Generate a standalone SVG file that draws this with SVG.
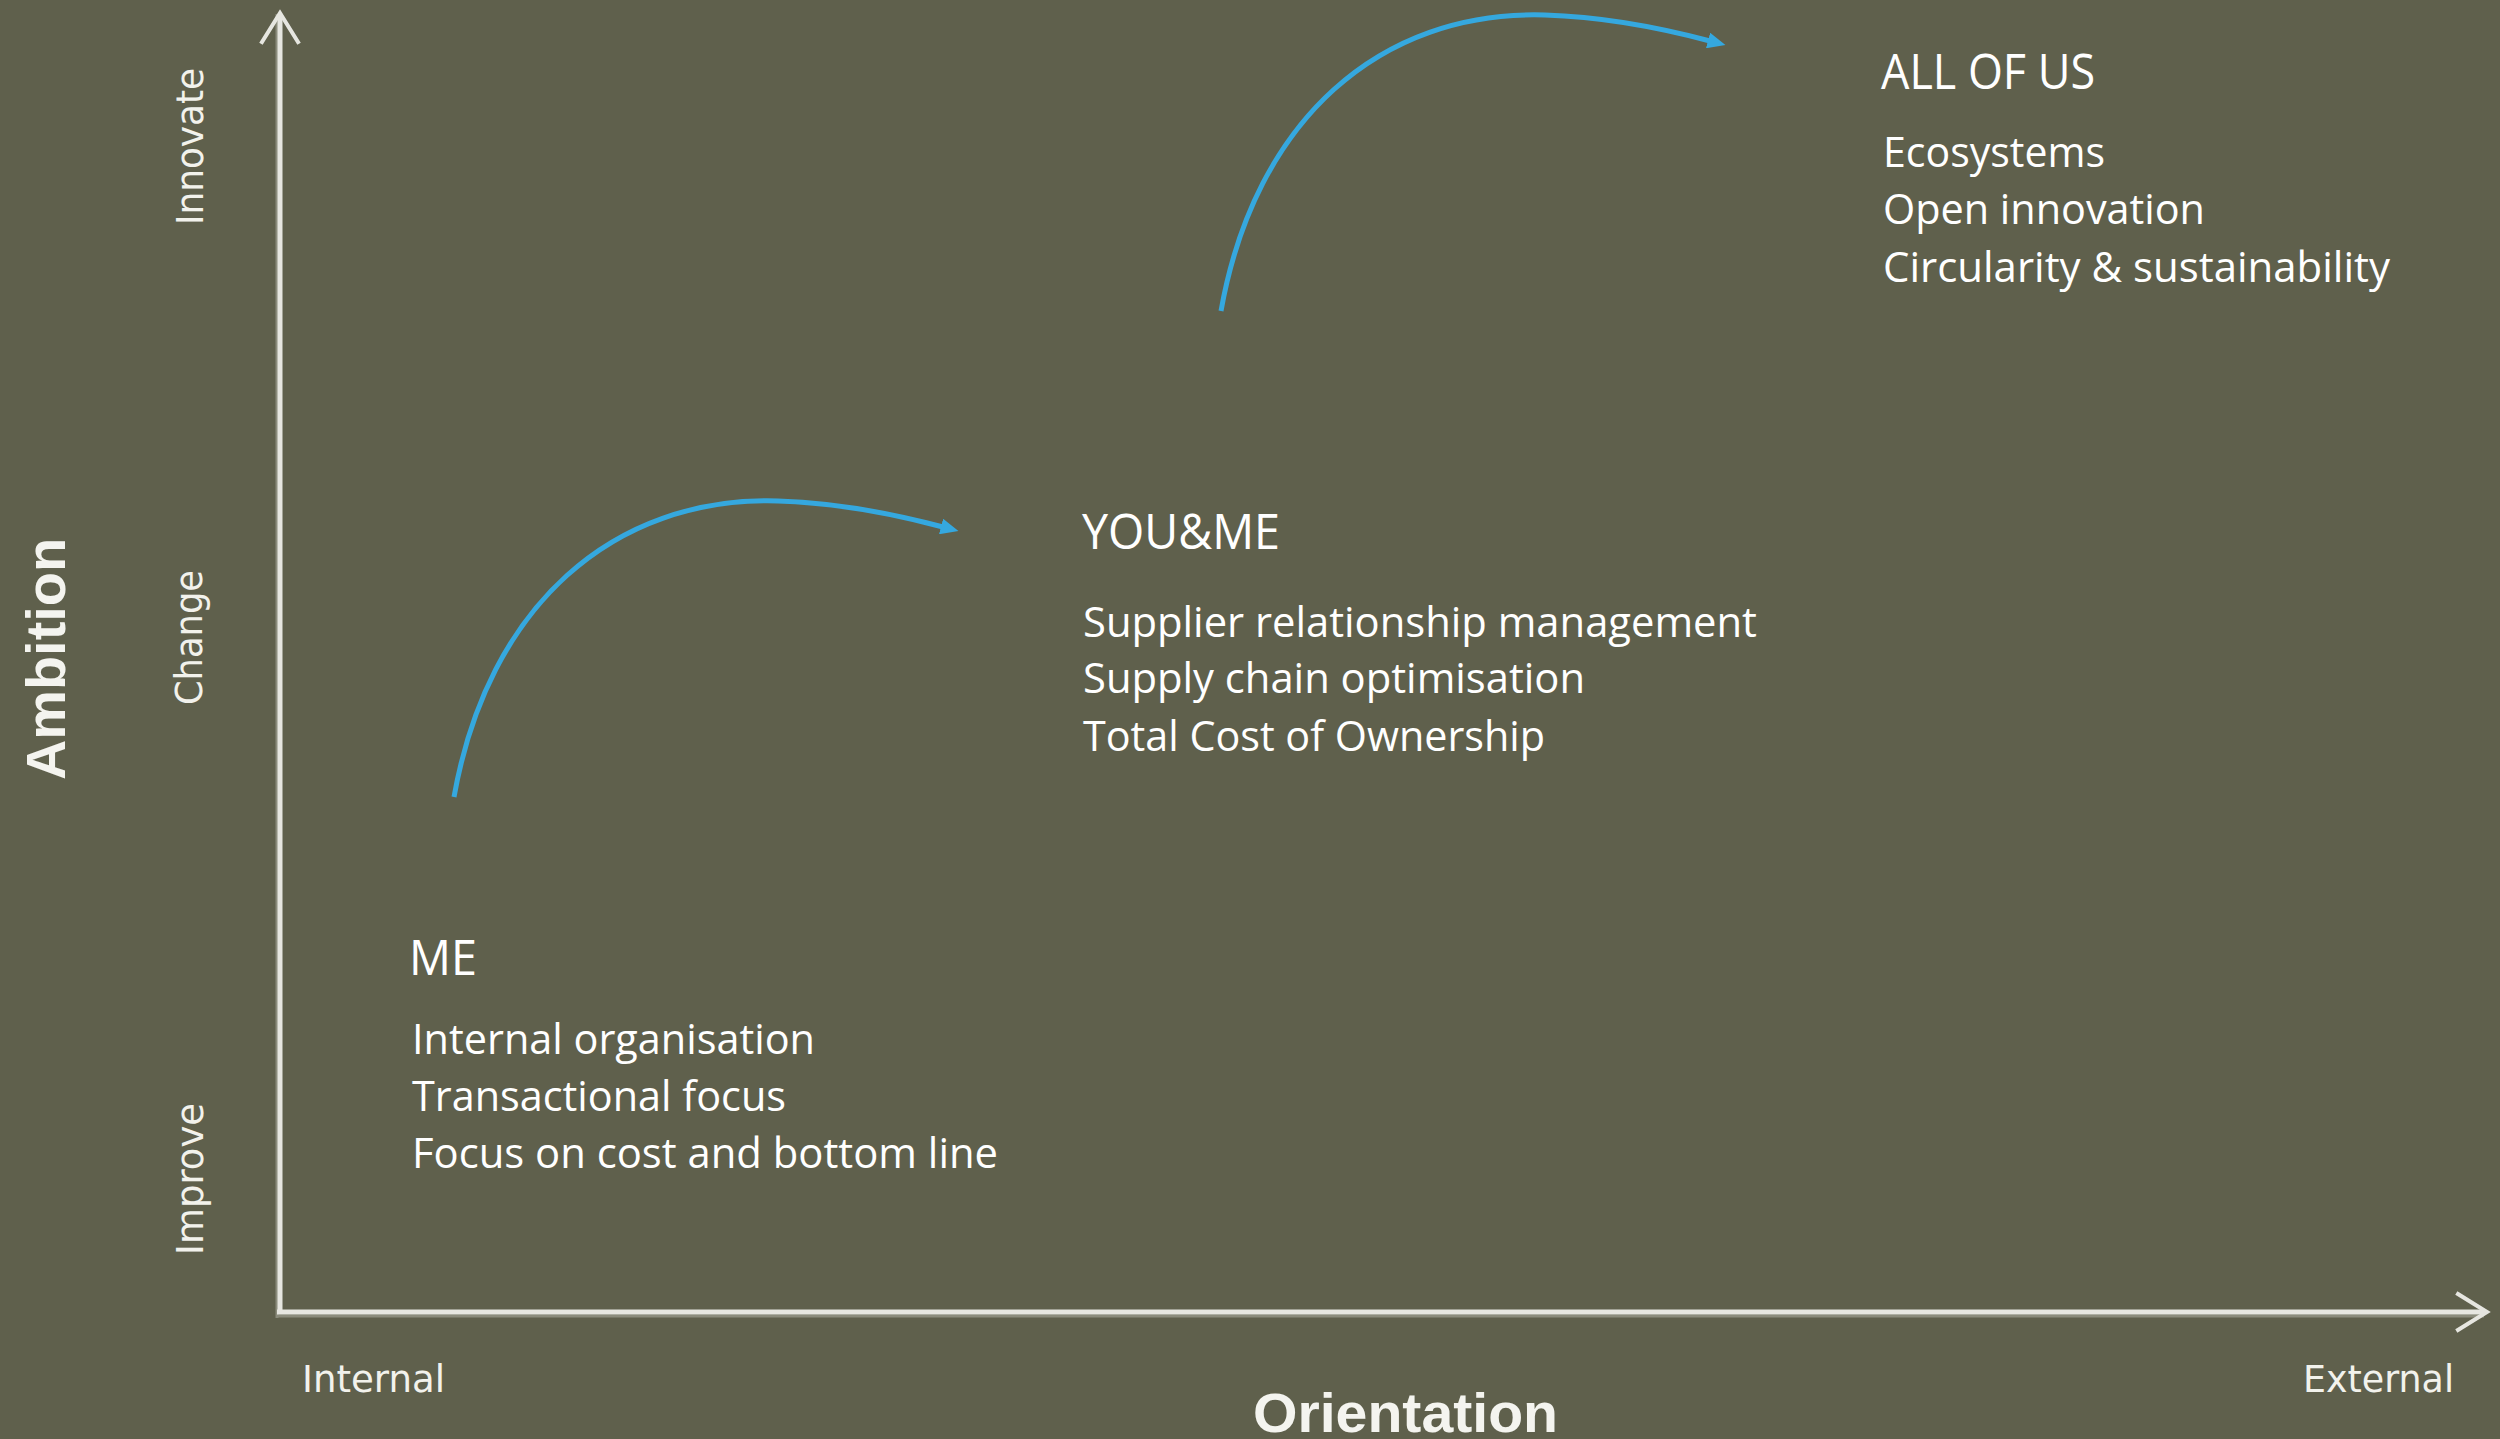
<svg xmlns="http://www.w3.org/2000/svg" width="2500" height="1439" viewBox="0 0 2500 1439">
<defs>
<style>
.body{font-family:"Open Sans","Liberation Sans",sans-serif;font-size:42px;fill:#ffffff}
.head{font-family:"Open Sans","Liberation Sans",sans-serif;font-size:49px;fill:#ffffff}
.small{font-family:"DejaVu Sans",sans-serif;font-size:37px;fill:#f2f2ec}
.big{font-family:"Liberation Sans",Arial,sans-serif;font-weight:bold;font-size:56px;fill:#f4f4ef}
.axis{stroke:#e6e6e0;stroke-width:5;fill:none}
.shadow{stroke:#8b8c7c;stroke-width:3;fill:none}
.chev{stroke:#e6e6e0;stroke-width:4;fill:none;stroke-linecap:square}
.curve{stroke:#35a8df;stroke-width:5;fill:none}
</style>
<marker id="ah" markerUnits="userSpaceOnUse" markerWidth="18" markerHeight="16" viewBox="0 0 18 16" refX="2" refY="8" orient="auto">
<path d="M0,0 L18,8 L0,16 z" fill="#35a8df"/>
</marker>
</defs>
<rect x="0" y="0" width="2500" height="1439" fill="#5f604c"/>

<g id="axes">
<line class="shadow" x1="277" y1="14" x2="277" y2="1318"/>
<line class="shadow" x1="277" y1="1316" x2="2484" y2="1316"/>
<line class="axis" x1="280" y1="14" x2="280" y2="1312"/>
<line class="axis" x1="277" y1="1312" x2="2486" y2="1312"/>
<polyline class="chev" points="262,42 280,13 298,42"/>
<polyline class="chev" points="2458,1294 2487,1312 2458,1330"/>
</g>

<g id="axis-labels">
<text class="small" transform="translate(203,225) rotate(-90)" textLength="157" lengthAdjust="spacingAndGlyphs">Innovate</text>
<text class="small" transform="translate(202,705) rotate(-90)" textLength="135" lengthAdjust="spacingAndGlyphs">Change</text>
<text class="small" transform="translate(203,1255) rotate(-90)" textLength="152" lengthAdjust="spacingAndGlyphs">Improve</text>
<text class="big" transform="translate(65,780) rotate(-90)" textLength="242" lengthAdjust="spacingAndGlyphs">Ambition</text>
<text class="small" x="302" y="1392" textLength="143" lengthAdjust="spacingAndGlyphs">Internal</text>
<text class="small" x="2303" y="1392" textLength="151" lengthAdjust="spacingAndGlyphs">External</text>
<text class="big" x="1253" y="1432" textLength="305" lengthAdjust="spacingAndGlyphs">Orientation</text>
</g>

<g id="connectors">
<path class="curve" d="M454,797 C488,606 613,496 778,501 C843,503 898,515 943,527" marker-end="url(#ah)"/>
<path class="curve" d="M1221,311 C1255,120 1380,10 1545,15 C1610,17 1665,29 1710,41" marker-end="url(#ah)"/>
</g>

<g id="node-me">
<text class="head" x="409" y="975" textLength="68" lengthAdjust="spacingAndGlyphs">ME</text>
<text class="body" x="412" y="1054" textLength="403" lengthAdjust="spacingAndGlyphs">Internal organisation</text>
<text class="body" x="412" y="1111" textLength="374" lengthAdjust="spacingAndGlyphs">Transactional focus</text>
<text class="body" x="412" y="1168" textLength="586" lengthAdjust="spacingAndGlyphs">Focus on cost and bottom line</text>
</g>

<g id="node-youme">
<text class="head" x="1082" y="549" textLength="198" lengthAdjust="spacingAndGlyphs">YOU&amp;ME</text>
<text class="body" x="1083" y="637" textLength="674" lengthAdjust="spacingAndGlyphs">Supplier relationship management</text>
<text class="body" x="1083" y="693" textLength="502" lengthAdjust="spacingAndGlyphs">Supply chain optimisation</text>
<text class="body" x="1083" y="751" textLength="462" lengthAdjust="spacingAndGlyphs">Total Cost of Ownership</text>
</g>

<g id="node-allofus">
<text class="head" x="1881" y="89" textLength="214" lengthAdjust="spacingAndGlyphs">ALL OF US</text>
<text class="body" x="1883" y="167" textLength="222" lengthAdjust="spacingAndGlyphs">Ecosystems</text>
<text class="body" x="1883" y="224" textLength="322" lengthAdjust="spacingAndGlyphs">Open innovation</text>
<text class="body" x="1883" y="282" textLength="507" lengthAdjust="spacingAndGlyphs">Circularity &amp; sustainability</text>
</g>
</svg>
